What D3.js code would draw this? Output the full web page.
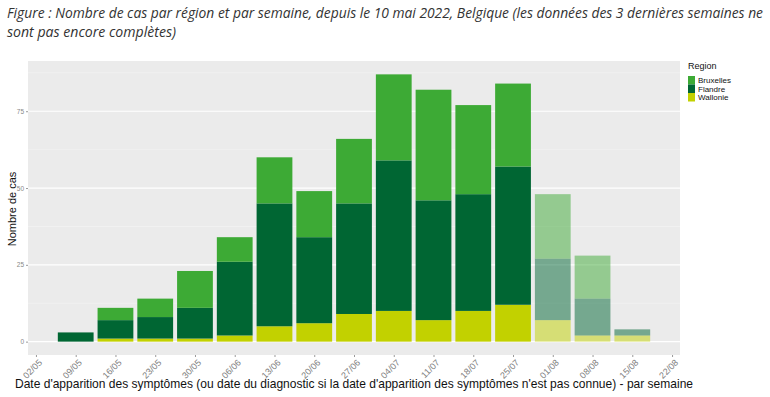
<!DOCTYPE html>
<html>
<head>
<meta charset="utf-8">
<script src="https://cdnjs.cloudflare.com/ajax/libs/d3/7.8.5/d3.min.js"></script>
<style>
  body { margin: 0; background: #fff; }
  svg { display: block; }
</style>
</head>
<body>
<div id="chart"></div>
<script>
var WIDTH = 770;
var HEIGHT = 397;

// tick labels (weeks), the first and last ticks have no bar
var weeks = ["02/05", "09/05", "16/05", "23/05", "30/05", "06/06", "13/06", "20/06",
  "27/06", "04/07", "11/07", "18/07", "25/07", "01/08", "08/08", "15/08", "22/08"];
var barWeeks = ["09/05", "16/05", "23/05", "30/05", "06/06", "13/06", "20/06", "27/06",
  "04/07", "11/07", "18/07", "25/07", "01/08", "08/08", "15/08"];
var incomplete = ["01/08", "08/08", "15/08"];

var wallonie  = [0, 1, 1, 1, 2, 5, 6, 9, 10, 7, 10, 12, 7, 2, 2];
var flandre   = [3, 6, 7, 10, 24, 40, 28, 36, 49, 39, 38, 45, 20, 12, 2];
var bruxelles = [0, 4, 6, 12, 8, 15, 15, 21, 28, 36, 29, 27, 21, 14, 0];

var regions = ["Bruxelles", "Flandre", "Wallonie"];
var colors = ["#3daa35", "#006633", "#c2d100"];
var yTicks = [0, 25, 50, 75];

var panel = {left: 28, right: 680, top: 61, bottom: 355};

var svg = d3.select("#chart").append("svg")
  .attr("width", WIDTH)
  .attr("height", HEIGHT);

// title
var title = svg.append("g")
  .attr("font-family", "'Open Sans', sans-serif")
  .attr("font-style", "italic")
  .attr("font-size", 13.8)
  .attr("fill", "#333");
title.append("text")
  .attr("x", 7).attr("y", 18)
  .attr("textLength", 756).attr("lengthAdjust", "spacingAndGlyphs")
  .text("Figure  : Nombre de cas par région et par semaine, depuis le 10 mai 2022, Belgique (les données des 3 dernières semaines ne");
title.append("text")
  .attr("x", 7).attr("y", 37)
  .attr("textLength", 169).attr("lengthAdjust", "spacingAndGlyphs")
  .text("sont pas encore complètes)");

// stack the data, order bottom -> top: Wallonie, Flandre, Bruxelles
var data = barWeeks.map(function(w, i) {
  return {week: w, Wallonie: wallonie[i], Flandre: flandre[i], Bruxelles: bruxelles[i]};
});
var stack = d3.stack().keys(["Wallonie", "Flandre", "Bruxelles"]);
var series = stack(data);

var color = d3.scaleOrdinal().domain(regions).range(colors);

var x = d3.scalePoint()
  .domain(weeks)
  .range([panel.left, panel.right])
  .padding(0.2);
var step = x.step();
var barW = step * 0.9;

var maxTotal = d3.max(data, function(d) { return d.Wallonie + d.Flandre + d.Bruxelles; });
var y = d3.scaleLinear()
  .domain([-maxTotal * 0.05, maxTotal * 1.05])
  .range([panel.bottom, panel.top]);

// panel background
svg.append("rect")
  .attr("x", panel.left).attr("y", panel.top)
  .attr("width", panel.right - panel.left)
  .attr("height", panel.bottom - panel.top)
  .attr("fill", "#ebebeb");

// minor grid
var minor = yTicks.map(function(t) { return t + 12.5; });
svg.append("g").selectAll("line")
  .data(minor)
  .join("line")
  .attr("x1", panel.left).attr("x2", panel.right)
  .attr("y1", function(d) { return y(d); })
  .attr("y2", function(d) { return y(d); })
  .attr("stroke", "#f5f5f5")
  .attr("stroke-width", 0.6);

// major grid
svg.append("g").selectAll("line")
  .data(yTicks)
  .join("line")
  .attr("x1", panel.left).attr("x2", panel.right)
  .attr("y1", function(d) { return y(d); })
  .attr("y2", function(d) { return y(d); })
  .attr("stroke", "#ffffff")
  .attr("stroke-width", 1.2);

// bars
svg.append("g").selectAll("g")
  .data(series)
  .join("g")
  .attr("fill", function(s) { return color(s.key); })
  .selectAll("rect")
  .data(function(s) { return s; })
  .join("rect")
  .attr("x", function(d) { return x(d.data.week) - barW / 2; })
  .attr("width", barW)
  .attr("y", function(d) { return y(d[1]); })
  .attr("height", function(d) { return y(d[0]) - y(d[1]); })
  .attr("fill-opacity", function(d) { return incomplete.indexOf(d.data.week) >= 0 ? 0.5 : 1; });

// y axis
var yAxis = svg.append("g")
  .attr("transform", "translate(" + panel.left + ",0)")
  .call(d3.axisLeft(y).tickValues(yTicks).tickSize(2).tickPadding(2))
  .call(function(g) { g.select(".domain").remove(); });
yAxis.selectAll("line").attr("stroke", "#999");
yAxis.selectAll("text")
  .attr("font-family", "'Liberation Sans', Arial, sans-serif")
  .attr("font-size", 6.5)
  .attr("fill", "#888");

// x axis
var xAxis = svg.append("g")
  .attr("transform", "translate(0," + panel.bottom + ")")
  .call(d3.axisBottom(x).tickSize(2).tickPadding(2))
  .call(function(g) { g.select(".domain").remove(); });
xAxis.selectAll("line").attr("stroke", "#999");
xAxis.selectAll("text")
  .attr("font-family", "'Liberation Sans', Arial, sans-serif")
  .attr("font-size", 9)
  .attr("fill", "#808080")
  .attr("text-anchor", "end")
  .attr("y", 0)
  .attr("dy", "0.35em")
  .attr("transform", "translate(4,6) rotate(-45)");

// axis titles
svg.append("text")
  .attr("transform", "translate(16,209) rotate(-90)")
  .attr("text-anchor", "middle")
  .attr("font-family", "'Liberation Sans', Arial, sans-serif")
  .attr("font-size", 11)
  .attr("fill", "#111")
  .text("Nombre de cas");

svg.append("text")
  .attr("x", 15).attr("y", 388)
  .attr("textLength", 678).attr("lengthAdjust", "spacingAndGlyphs")
  .attr("font-family", "'Liberation Sans', Arial, sans-serif")
  .attr("font-size", 13)
  .attr("fill", "#111")
  .text("Date d'apparition des symptômes (ou date du diagnostic si la date d'apparition des symptômes n'est pas connue) - par semaine");

// legend
var legend = svg.append("g")
  .attr("transform", "translate(688,61)")
  .attr("font-family", "'Liberation Sans', Arial, sans-serif");
legend.append("text")
  .attr("x", 0).attr("y", 8)
  .attr("font-size", 9)
  .attr("fill", "#111")
  .text("Region");
var item = legend.selectAll("g.item")
  .data(regions)
  .join("g")
  .attr("class", "item")
  .attr("transform", function(d, i) { return "translate(0," + (15 + i * 8.5) + ")"; });
item.append("rect")
  .attr("width", 7).attr("height", 8.5)
  .attr("fill", function(d) { return color(d); });
item.append("text")
  .attr("x", 10).attr("y", 7)
  .attr("font-size", 8)
  .attr("fill", "#111")
  .text(function(d) { return d; });
</script>
</body>
</html>
